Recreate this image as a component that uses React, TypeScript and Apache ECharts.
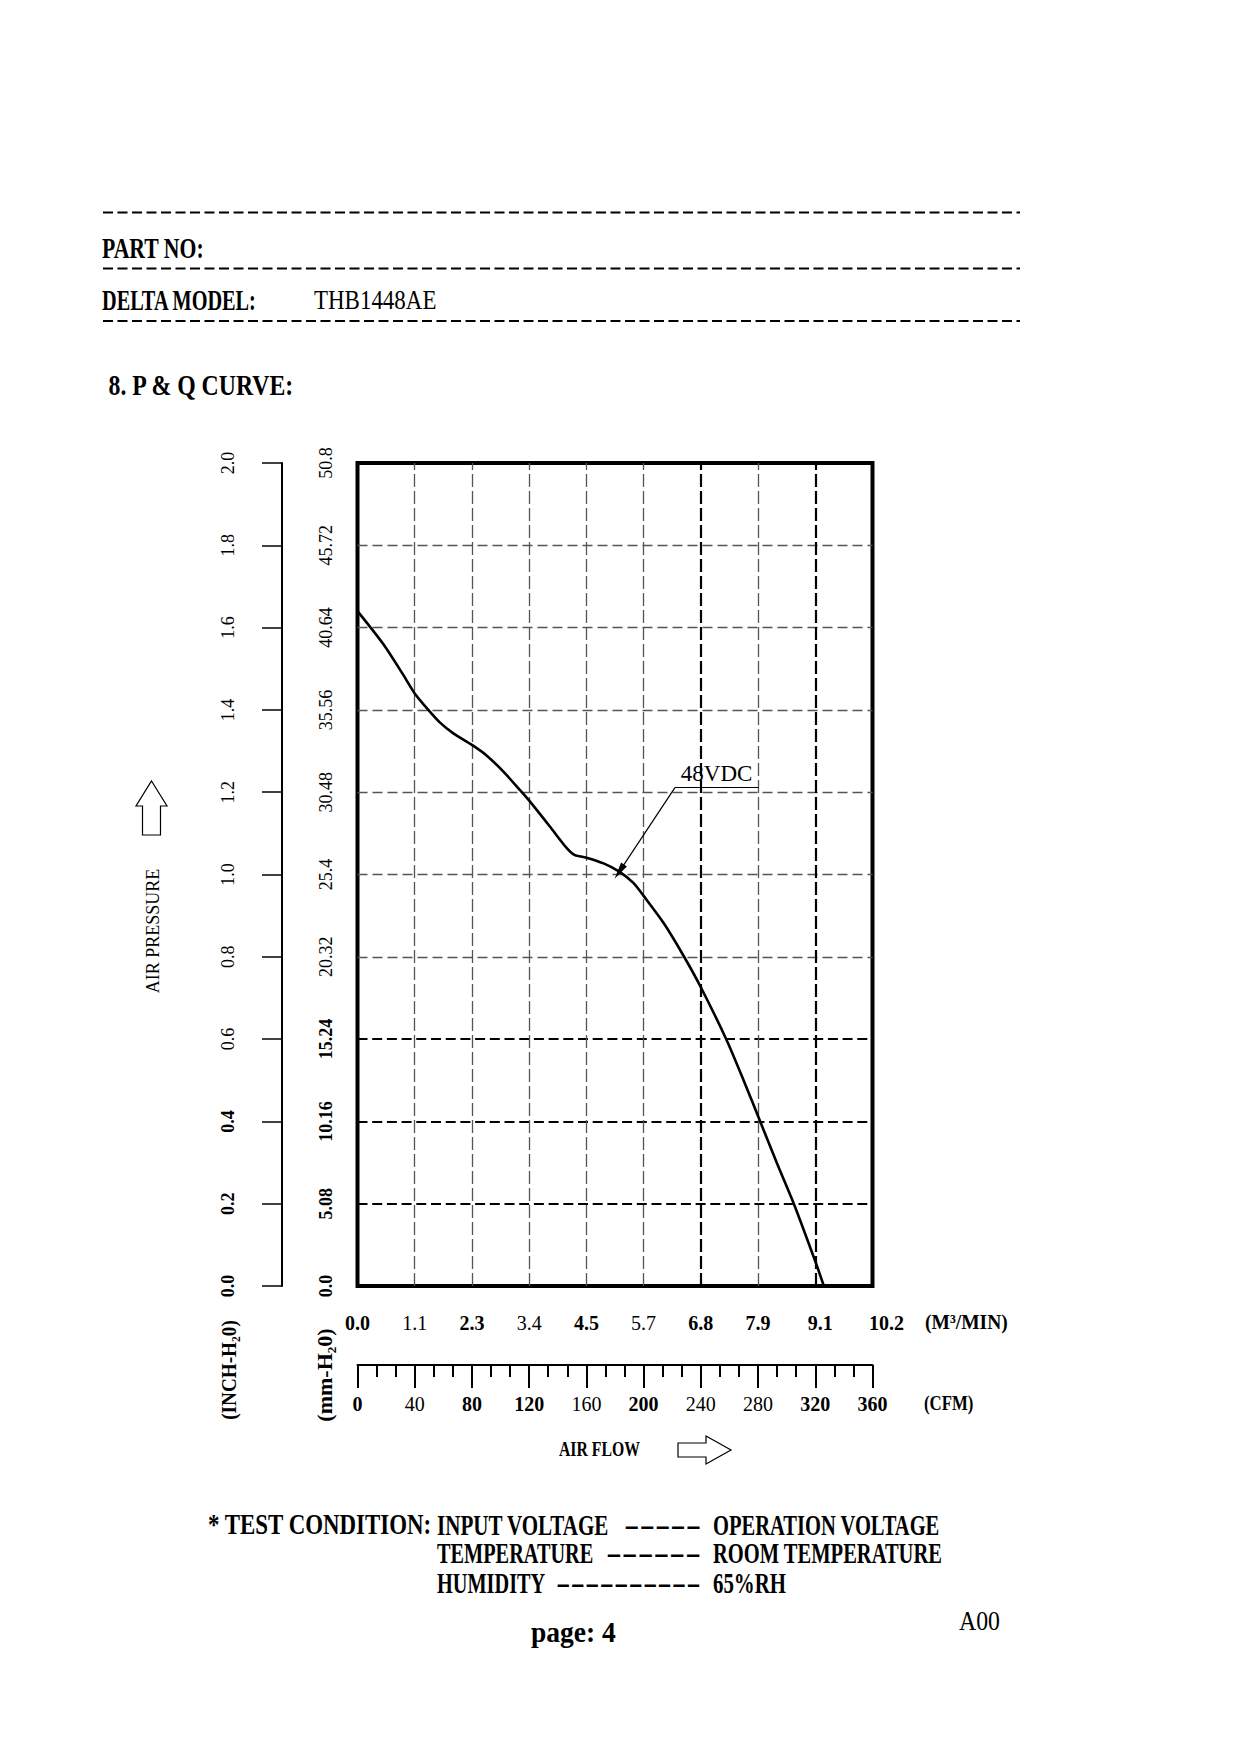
import React, { useEffect, useRef } from "react";
import * as echarts from "echarts";

const FONT = '"Liberation Serif", "Times New Roman", serif';

// P-Q curve: air flow (CFM) vs static pressure (inch H2O)
const flowCfm = [0, 18, 32, 40, 49.5, 57.7, 67, 80, 90, 102, 113.6, 120.6, 134.6, 146.3, 152, 160, 172, 183, 193, 200, 214, 228, 240, 258, 270, 281.5, 293, 305, 320, 326];
const pressureInch = [1.64, 1.56, 1.485, 1.44, 1.4, 1.369, 1.343, 1.315, 1.29, 1.25, 1.205, 1.177, 1.116, 1.064, 1.047, 1.041, 1.027, 1.007, 0.979, 0.948, 0.882, 0.802, 0.726, 0.598, 0.499, 0.4, 0.3, 0.2, 0.06, 0.0];

// tick labels
const cmmLabels = ["0.0", "1.1", "2.3", "3.4", "4.5", "5.7", "6.8", "7.9", "9.1", "10.2"];
const cmmBold = [true, false, true, false, true, false, true, true, true, true];
const cfmLabels = ["0", "40", "80", "120", "160", "200", "240", "280", "320", "360"];
const cfmBold = [true, false, true, true, false, true, false, false, true, true];
const inchLabels = ["0.0", "0.2", "0.4", "0.6", "0.8", "1.0", "1.2", "1.4", "1.6", "1.8", "2.0"];
const inchBold = [true, true, true, false, false, false, false, false, false, false, false];
const mmLabels = ["0.0", "5.08", "10.16", "15.24", "20.32", "25.4", "30.48", "35.56", "40.64", "45.72", "50.8"];
const mmBold = [true, true, true, true, false, false, false, false, false, false, false];

// grid lines
const darkHGrid = [0.2, 0.4, 0.6];
const lightHGrid = [0.8, 1.0, 1.2, 1.4, 1.6, 1.8];
const darkVGrid = [240, 320];
const lightVGrid = [40, 80, 120, 160, 200, 280];

// annotation (CFM, inch)
const calloutLabel = "48VDC";
const calloutTip = [183, 1.007];
const calloutElbow = [221.9, 1.211];
const calloutEnd = [280.2, 1.211];

const rich = (size: number, extra: any = {}) => ({
  b: { fontFamily: FONT, fontSize: size, fontWeight: "bold", color: "#000" },
  n: { fontFamily: FONT, fontSize: size, fontWeight: "normal", color: "#000" },
  ...extra,
});

function txt(text: string, x: number, y: number, size: number, o: any = {}) {
  const align = o.align || "left";
  return {
    type: "text",
    x,
    y,
    scaleX: o.sx ?? 1,
    rotation: o.rot ?? 0,
    silent: true,
    style: {
      text,
      fontFamily: FONT,
      fontSize: size,
      fontWeight: o.bold ? "bold" : "normal",
      fill: "#000",
      textAlign: align,
      textVerticalAlign: "middle",
      align,
      verticalAlign: "middle",
    },
  };
}

function dashLine(y: number) {
  return {
    type: "line",
    silent: true,
    shape: { x1: 103, y1: y, x2: 1020, y2: y },
    style: { stroke: "#000", lineWidth: 2, lineDash: [10, 4.5] },
  };
}

export default function App() {
  const ref = useRef<HTMLDivElement>(null);
  useEffect(() => {
    if (!ref.current) return;
    const chart = echarts.init(ref.current, null, { renderer: "svg", width: 1240, height: 1754 });
    const curve = flowCfm.map((x, i) => [x, pressureInch[i]]);

    const lightH = { color: "#555", width: 1.3, type: [10, 5] };
    const darkH = { color: "#000", width: 2.2, type: [10, 4.7] };
    const lightV = { color: "#555", width: 1.3, type: [13, 4] };
    const darkV = { color: "#000", width: 2.2, type: [13, 4] };

    const gridLines = [
      ...lightHGrid.map((v) => ({ yAxis: v, lineStyle: lightH })),
      ...darkHGrid.map((v) => ({ yAxis: v, lineStyle: darkH })),
      ...lightVGrid.map((v) => ({ xAxis: v, lineStyle: lightV })),
      ...darkVGrid.map((v) => ({ xAxis: v, lineStyle: darkV })),
    ];

    const option: any = {
      animation: false,
      grid: {
        left: 357.5,
        top: 463,
        width: 515,
        height: 823,
        show: true,
        borderColor: "#000",
        borderWidth: 4,
        backgroundColor: "transparent",
      },
      xAxis: [
        {
          type: "value",
          min: 0,
          max: 360,
          interval: 40,
          position: "bottom",
          axisLine: { show: false, onZero: false },
          axisTick: { show: false },
          splitLine: { show: false },
          axisLabel: {
            margin: 27,
            formatter: (v: number) => {
              const i = Math.round(v / 40);
              const key = i === 9 ? "bl" : i === 8 ? "bs" : cmmBold[i] ? "b" : "n";
              return `{${key}|${cmmLabels[i]}}`;
            },
            rich: rich(20, {
              bs: { fontFamily: FONT, fontSize: 20, fontWeight: "bold", color: "#000", padding: [0, 0, 0, 10] },
              bl: { fontFamily: FONT, fontSize: 20, fontWeight: "bold", color: "#000", padding: [0, 0, 0, 28] },
            }),
          },
        },
        {
          type: "value",
          min: 0,
          max: 360,
          interval: 40,
          position: "bottom",
          offset: 79,
          axisLine: { show: true, onZero: false, lineStyle: { color: "#000", width: 2 } },
          axisTick: { show: true, length: 23, lineStyle: { color: "#000", width: 2 } },
          minorTick: { show: true, splitNumber: 3, length: 12, lineStyle: { color: "#000", width: 2 } },
          splitLine: { show: false },
          minorSplitLine: { show: false },
          axisLabel: {
            margin: 29,
            formatter: (v: number) => {
              const i = Math.round(v / 40);
              return `{${cfmBold[i] ? "b" : "n"}|${cfmLabels[i]}}`;
            },
            rich: rich(20),
          },
        },
      ],
      yAxis: [
        {
          type: "value",
          min: 0,
          max: 2,
          interval: 0.2,
          position: "left",
          offset: 75.5,
          axisLine: { show: true, onZero: false, lineStyle: { color: "#000", width: 2 } },
          axisTick: { show: true, length: 20, lineStyle: { color: "#000", width: 1.5 } },
          splitLine: { show: false },
          axisLabel: {
            rotate: 90,
            margin: 45,
            formatter: (v: number) => {
              const i = Math.round(v / 0.2);
              return `{${inchBold[i] ? "b" : "n"}|${inchLabels[i]}}`;
            },
            rich: rich(18),
          },
        },
        {
          type: "value",
          min: 0,
          max: 2,
          interval: 0.2,
          position: "left",
          offset: 0,
          axisLine: { show: false, onZero: false },
          axisTick: { show: false },
          splitLine: { show: false },
          axisLabel: {
            rotate: 90,
            margin: 23,
            formatter: (v: number) => {
              const i = Math.round(v / 0.2);
              return `{${mmBold[i] ? "b" : "n"}|${mmLabels[i]}}`;
            },
            rich: rich(18),
          },
        },
      ],
      series: [
        {
          type: "line",
          data: curve,
          z: 1,
          silent: true,
          symbol: "none",
          lineStyle: { opacity: 0 },
          markLine: {
            silent: true,
            symbol: ["none", "none"],
            label: { show: false },
            data: gridLines,
          },
        },
        {
          type: "line",
          data: curve,
          z: 5,
          silent: true,
          symbol: "none",
          smooth: 0.25,
          lineStyle: { color: "#000", width: 2.6 },
          markLine: {
            silent: true,
            symbol: ["none", "none"],
            lineStyle: { color: "#000", width: 1.2, type: "solid" },
            label: { show: false },
            data: [
              [
                { coord: calloutElbow, symbol: "none" },
                { coord: calloutTip, symbol: "triangle", symbolSize: [7, 17] },
              ],
              [
                {
                  coord: calloutElbow,
                  symbol: "none",
                  label: {
                    show: true,
                    position: "insideMiddleTop",
                    distance: 3,
                    formatter: calloutLabel,
                    fontFamily: FONT,
                    fontSize: 23,
                    color: "#000",
                  },
                },
                { coord: calloutEnd, symbol: "none" },
              ],
            ],
          },
        },
      ],
      graphic: [
        dashLine(212.5),
        dashLine(268.4),
        dashLine(321),
        txt("PART NO:", 102, 248, 29, { bold: true, sx: 0.75 }),
        txt("DELTA MODEL:", 102, 300, 29, { bold: true, sx: 0.7 }),
        txt("THB1448AE", 314, 300, 28, { sx: 0.82 }),
        txt("8. P & Q CURVE:", 108.5, 385, 29, { bold: true, sx: 0.82 }),

        txt("AIR PRESSURE", 153, 931, 18, { align: "center", rot: Math.PI / 2 }),
        {
          type: "polygon",
          silent: true,
          shape: { points: [[151.5, 781], [167, 806], [160.5, 806], [160.5, 835], [142.5, 835], [142.5, 806], [136, 806]] },
          style: { fill: "#fff", stroke: "#000", lineWidth: 1.2 },
        },
        txt("(INCH-H\u20820)", 229, 1370, 20, { bold: true, align: "center", rot: Math.PI / 2, sx: 0.96 }),
        txt("(mm-H\u20820)", 325, 1375, 20, { bold: true, align: "center", rot: Math.PI / 2, sx: 1.1 }),

        txt("(M\u00B3/MIN)", 925, 1322, 21, { bold: true, sx: 0.93 }),
        txt("(CFM)", 924, 1403, 21, { bold: true, sx: 0.8 }),
        txt("AIR FLOW", 559, 1449, 21, { bold: true, sx: 0.75 }),
        {
          type: "polygon",
          silent: true,
          shape: { points: [[678, 1443], [706, 1443], [706, 1436], [731, 1450], [706, 1464], [706, 1457], [678, 1457]] },
          style: { fill: "#fff", stroke: "#000", lineWidth: 1.2 },
        },

        txt("* TEST CONDITION:", 208, 1525, 29, { bold: true, sx: 0.79 }),
        txt("INPUT VOLTAGE", 437, 1525, 29, { bold: true, sx: 0.726 }),
        txt("-----", 624, 1525, 29, { bold: true, sx: 1.6 }),
        txt("OPERATION VOLTAGE", 713, 1525, 29, { bold: true, sx: 0.708 }),
        txt("TEMPERATURE", 437, 1553, 29, { bold: true, sx: 0.7 }),
        txt("------", 606, 1553, 29, { bold: true, sx: 1.64 }),
        txt("ROOM TEMPERATURE", 713, 1553, 29, { bold: true, sx: 0.708 }),
        txt("HUMIDITY", 437, 1583, 29, { bold: true, sx: 0.7 }),
        txt("----------", 556, 1583, 29, { bold: true, sx: 1.5 }),
        txt("65%RH", 713, 1583, 29, { bold: true, sx: 0.72 }),

        txt("page: 4", 531, 1632, 29, { bold: true, sx: 0.95 }),
        txt("A00", 959, 1621, 27, { sx: 0.88 }),
      ],
    };
    chart.setOption(option);
    return () => chart.dispose();
  }, []);
  return (
    <div
      ref={ref}
      style={{ position: "absolute", left: 0, top: 0, width: 1240, height: 1754, background: "#fff" }}
    />
  );
}
